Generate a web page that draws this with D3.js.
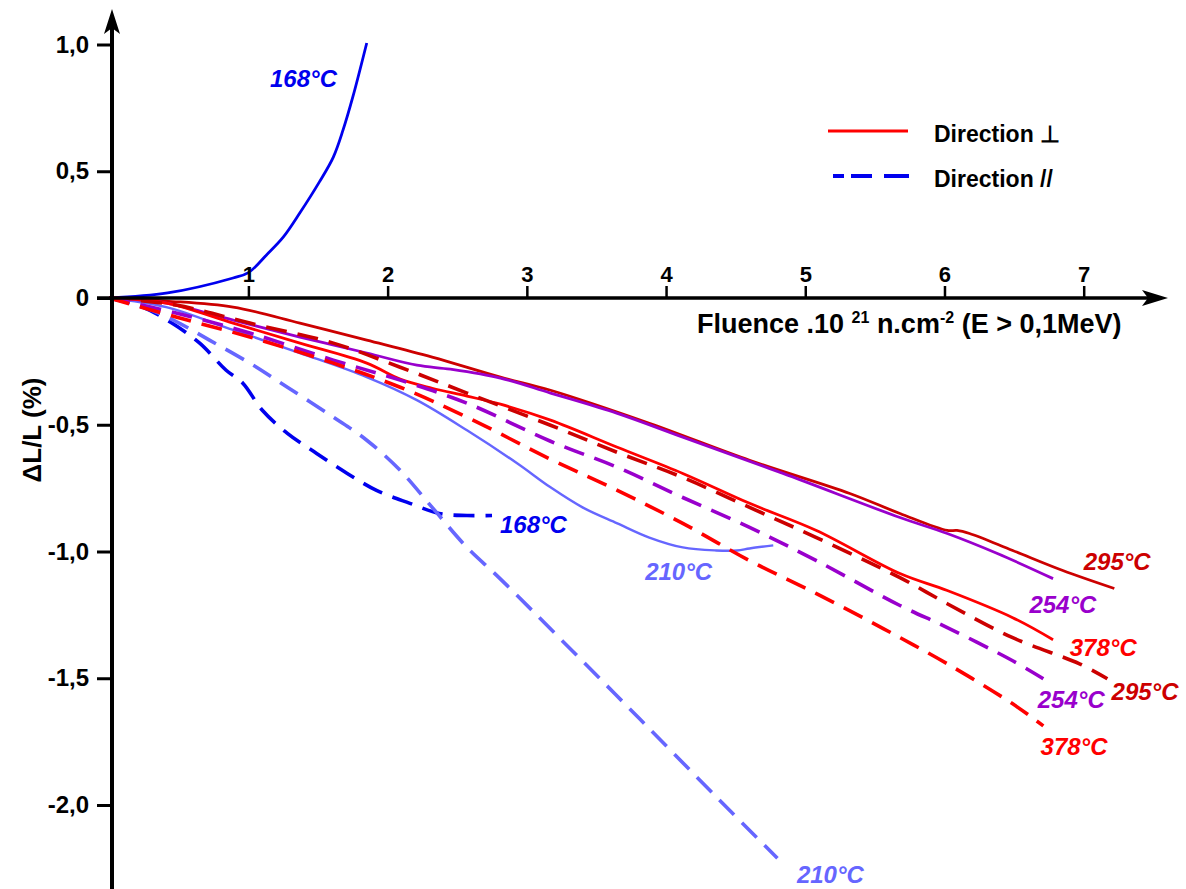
<!DOCTYPE html>
<html>
<head>
<meta charset="utf-8">
<script src="https://cdn.jsdelivr.net/npm/d3@7"></script>
<style>
    body { margin: 0; background: #fff; }
    svg { display: block; font-family: "Liberation Sans", Arial, sans-serif; }
</style>
</head>
<body>
<div id="chart"></div>
<script>
// ---- data (fluence 10^21 n.cm-2, dL/L %) ----
const fluenceTicks = [1, 2, 3, 4, 5, 6, 7];
const dlTicks = [1, 0.5, 0, -0.5, -1, -1.5, -2];
const dlTickLabels = ['1,0', '0,5', '0', '-0,5', '-1,0', '-1,5', '-2,0'];

const perp168 = [[0, 0], [0.42, 0.02], [0.89, 0.079], [1.0, 0.1], [1.13, 0.17], [1.25, 0.24],
    [1.37, 0.336], [1.51, 0.458], [1.61, 0.556], [1.68, 0.663], [1.75, 0.793], [1.85, 1.006]];
const para168 = [[0, 0], [0.24, -0.036], [0.45, -0.099], [0.65, -0.178], [0.84, -0.285], [0.96, -0.336],
    [1.10, -0.443], [1.28, -0.534], [1.49, -0.613], [1.71, -0.692], [1.92, -0.759], [2.16, -0.81],
    [2.37, -0.85], [2.57, -0.858], [2.75, -0.858]];
const perp210 = [[0, 0], [0.41, -0.036], [0.89, -0.126], [1.37, -0.217], [1.85, -0.312], [2.21, -0.403],
    [2.57, -0.522], [2.93, -0.652], [3.17, -0.747], [3.40, -0.826], [3.65, -0.889], [3.88, -0.945],
    [4.12, -0.984], [4.36, -0.996], [4.51, -0.996], [4.60, -0.988], [4.77, -0.976]];
const para210 = [[0, 0], [0.17, -0.02], [0.46, -0.087], [0.72, -0.166], [1.01, -0.257], [1.28, -0.352],
    [1.61, -0.47], [1.85, -0.561], [2.09, -0.68], [2.32, -0.826], [2.57, -0.984], [2.80, -1.103],
    [3.24, -1.344], [3.81, -1.66], [4.39, -1.984], [4.80, -2.21]];
const perp295 = [[0, 0], [0.41, -0.012], [0.89, -0.036], [1.37, -0.099], [1.85, -0.166], [2.32, -0.233],
    [2.81, -0.312], [3.17, -0.364], [3.88, -0.494], [4.60, -0.64], [5.32, -0.771], [5.68, -0.85],
    [6.02, -0.917], [6.09, -0.917], [6.18, -0.929], [6.49, -0.996], [6.85, -1.075], [7.22, -1.146]];
const perp254 = [[0, 0], [0.41, -0.02], [0.89, -0.087], [1.37, -0.154], [1.85, -0.217], [2.21, -0.265],
    [2.45, -0.281], [2.81, -0.316], [3.17, -0.375], [3.65, -0.455], [4.12, -0.549], [4.84, -0.692],
    [5.68, -0.866], [6.02, -0.929], [6.38, -1.008], [6.78, -1.107]];
const perp378 = [[0, 0], [0.41, -0.02], [0.89, -0.099], [1.37, -0.178], [1.85, -0.257], [2.09, -0.32],
    [2.32, -0.356], [2.57, -0.387], [2.81, -0.419], [3.17, -0.482], [3.65, -0.589], [4.12, -0.692],
    [4.60, -0.81], [5.08, -0.917], [5.68, -1.087], [6.02, -1.154], [6.49, -1.261], [6.78, -1.348]];
const para295 = [[0, 0], [0.48, -0.028], [1.01, -0.099], [1.61, -0.178], [2.09, -0.273], [2.57, -0.375],
    [3.17, -0.502], [3.65, -0.609], [4.12, -0.708], [4.60, -0.826], [5.08, -0.945], [5.68, -1.103],
    [6.02, -1.206], [6.49, -1.34], [6.97, -1.443], [7.17, -1.502]];
const para254 = [[0, 0], [0.48, -0.059], [1.01, -0.138], [1.61, -0.245], [2.09, -0.324], [2.57, -0.415],
    [3.17, -0.565], [3.65, -0.668], [4.12, -0.787], [4.60, -0.905], [5.08, -1.036], [5.68, -1.213],
    [6.02, -1.3], [6.49, -1.431], [6.71, -1.502]];
const para378 = [[0, 0], [0.48, -0.075], [1.01, -0.154], [1.61, -0.257], [2.09, -0.352], [2.57, -0.47],
    [3.17, -0.636], [3.65, -0.759], [4.12, -0.889], [4.60, -1.036], [5.08, -1.166], [5.56, -1.304],
    [6.02, -1.443], [6.49, -1.601], [6.71, -1.688]];

const series = [
    { temp: '168°C', dir: 'perp', color: '#0000ee', data: perp168 },
    { temp: '168°C', dir: 'para', color: '#0000ee', data: para168 },
    { temp: '210°C', dir: 'perp', color: '#6666ff', data: perp210 },
    { temp: '210°C', dir: 'para', color: '#6666ff', data: para210 },
    { temp: '295°C', dir: 'perp', color: '#cc0000', data: perp295 },
    { temp: '254°C', dir: 'perp', color: '#9900cc', data: perp254 },
    { temp: '378°C', dir: 'perp', color: '#ff0000', data: perp378 },
    { temp: '295°C', dir: 'para', color: '#cc0000', data: para295 },
    { temp: '254°C', dir: 'para', color: '#9900cc', data: para254 },
    { temp: '378°C', dir: 'para', color: '#ff0000', data: para378 }
];

// label anchors (left / baseline) in data units, same order as series
const labelAt = [[1.155, 0.832], [2.807, -0.927], [3.85, -1.112], [4.94, -2.308], [7.0, -1.073],
    [6.61, -1.243], [6.90, -1.412], [7.20, -1.586], [6.67, -1.617], [6.69, -1.803]];

(function () {
    'use strict';

    const W = 1186, H = 889;
    const svg = d3.select('#chart').append('svg')
        .attr('width', W).attr('height', H);

    const x = d3.scaleLinear().domain([0, 7]).range([109.2, 1083.7]);
    const y = d3.scaleLinear().domain([-2, 1]).range([805, 44.5]);
    const x0 = 112, y0 = y(0);

    // Curves
    const line = d3.line()
        .x(d => x(d[0]))
        .y(d => y(d[1]))
        .curve(d3.curveCatmullRom.alpha(0.5));

    const g = svg.append('g');
    g.selectAll('path.curve').data(series).enter().append('path')
        .attr('class', 'curve')
        .attr('fill', 'none')
        .attr('stroke', d => d.color)
        .attr('stroke-width', d => d.dir === 'para' ? 3.6 : (d.temp === '210°C' ? 2.4 : 2.8))
        .attr('stroke-dasharray', d => d.dir === 'para' ? '21,11' : null)
        .attr('stroke-linejoin', 'round')
        .attr('d', d => line(d.data));

    g.selectAll('text.curve-label').data(series).enter().append('text')
        .attr('class', 'curve-label')
        .attr('x', (d, i) => x(labelAt[i][0]))
        .attr('y', (d, i) => y(labelAt[i][1]))
        .attr('fill', d => d.color)
        .attr('font-size', '24px')
        .attr('font-weight', 'bold')
        .attr('font-style', 'italic')
        .text(d => d.temp);

    // Axes
    const axes = svg.append('g');

    // y axis line + arrow
    axes.append('line')
        .attr('x1', x0).attr('x2', x0).attr('y1', H).attr('y2', 28)
        .attr('stroke', '#000').attr('stroke-width', 4);
    axes.append('path')
        .attr('d', `M${x0},9 L${x0 - 8},34 L${x0},28 L${x0 + 8},34 Z`)
        .attr('fill', '#000');

    // x axis line + arrow
    axes.append('line')
        .attr('x1', 97).attr('x2', 1150).attr('y1', y0).attr('y2', y0)
        .attr('stroke', '#000').attr('stroke-width', 3.5);
    axes.append('path')
        .attr('d', `M1168,${y0} L1142,${y0 - 8} L1148,${y0} L1142,${y0 + 8} Z`)
        .attr('fill', '#000');

    // y ticks
    const yAxis = d3.axisLeft(y)
        .tickValues(dlTicks)
        .tickSize(15)
        .tickPadding(8)
        .tickFormat((d, i) => dlTickLabels[i]);
    const yg = axes.append('g')
        .attr('transform', `translate(${x0},0)`)
        .call(yAxis);
    yg.select('.domain').remove();
    yg.selectAll('.tick line').attr('stroke', '#000').attr('stroke-width', 3);
    yg.selectAll('.tick text')
        .attr('font-size', '24px').attr('font-weight', 'bold')
        .attr('font-family', '"Liberation Sans", Arial, sans-serif')
        .attr('fill', '#000');

    // x ticks (above the axis)
    const xAxis = d3.axisTop(x)
        .tickValues(fluenceTicks)
        .tickSize(12)
        .tickPadding(4)
        .tickFormat(d3.format('d'));
    const xg = axes.append('g')
        .attr('transform', `translate(0,${y0})`)
        .call(xAxis);
    xg.select('.domain').remove();
    xg.selectAll('.tick line').attr('stroke', '#000').attr('stroke-width', 2.5);
    xg.selectAll('.tick text')
        .attr('font-size', '22px').attr('font-weight', 'bold')
        .attr('font-family', '"Liberation Sans", Arial, sans-serif')
        .attr('fill', '#000');

    // Axis titles
    const xt = svg.append('text')
        .attr('x', 697).attr('y', 333)
        .attr('font-size', '27px').attr('font-weight', 'bold')
        .attr('fill', '#000');
    xt.append('tspan').text('Fluence .10 ');
    xt.append('tspan').attr('font-size', '16px').attr('dy', -10).text('21');
    xt.append('tspan').attr('dy', 10).text(' n.cm');
    xt.append('tspan').attr('font-size', '16px').attr('dy', -10).text('-2');
    xt.append('tspan').attr('dy', 10).text(' (E > 0,1MeV)');

    svg.append('text')
        .attr('transform', 'translate(41,430) rotate(-90)')
        .attr('text-anchor', 'middle')
        .attr('font-size', '26px').attr('font-weight', 'bold')
        .attr('fill', '#000')
        .text('ΔL/L (%)');

    // Legend
    const legend = svg.append('g');
    legend.append('line')
        .attr('x1', 828).attr('x2', 908).attr('y1', 131).attr('y2', 131)
        .attr('stroke', '#ff0000').attr('stroke-width', 3);
    legend.append('line')
        .attr('x1', 833).attr('x2', 911).attr('y1', 176).attr('y2', 176)
        .attr('stroke', '#0000ee').attr('stroke-width', 4)
        .attr('stroke-dasharray', '11,7,21,12,25,40');
    legend.append('text')
        .attr('x', 934).attr('y', 142)
        .attr('font-size', '23px').attr('font-weight', 'bold')
        .text('Direction ⊥');
    legend.append('text')
        .attr('x', 934).attr('y', 187)
        .attr('font-size', '23px').attr('font-weight', 'bold')
        .text('Direction //');
})();
</script>
</body>
</html>
